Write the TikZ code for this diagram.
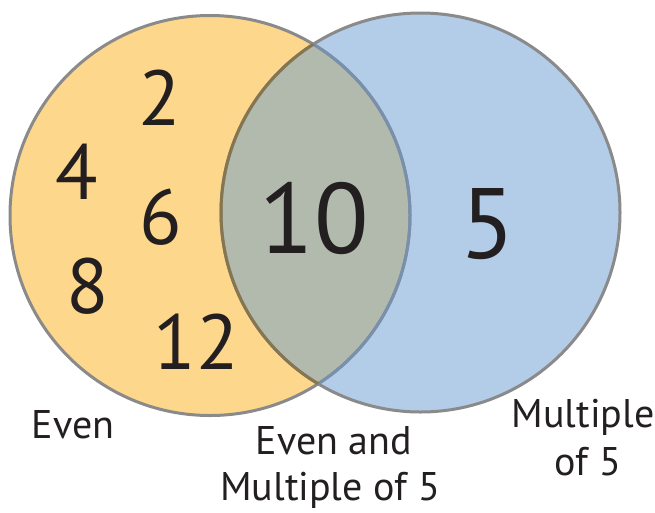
\documentclass[tikz,border=0pt]{standalone}
\usepackage{fontspec}
\setmainfont{PT Sans}
\definecolor{evenfill}{HTML}{FDD78C}
\definecolor{fivefill}{HTML}{B3CDE8}
\definecolor{bothfill}{HTML}{B2BAAE}
\definecolor{rim}{HTML}{8A8A8A}
\definecolor{rimblue}{HTML}{7890AC}
\definecolor{rimbrown}{HTML}{857650}
\definecolor{ink}{HTML}{231F20}
\begin{document}
\begin{tikzpicture}[x=1pt,y=-1pt,
  num/.style={anchor=base,inner sep=0pt,text=ink,font=\fontsize{78}{78}\selectfont},
  bignum/.style={anchor=base,inner sep=0pt,text=ink,font=\fontsize{100}{100}\selectfont},
  lbl/.style={anchor=base,inner sep=0pt,text=ink,font=\fontsize{40}{40}\selectfont}]
\useasboundingbox (0,0) rectangle (655,512);
\def\leftc{(210,215.5) circle [radius=200]}
\def\rightc{(420.5,212.5) circle [radius=199.5]}
\fill[evenfill] \leftc;
\fill[fivefill] \rightc;
\begin{scope}
  \clip \leftc;
  \fill[bothfill] \rightc;
\end{scope}
\draw[rim,line width=3pt] \leftc;
\draw[rim,line width=3pt] \rightc;
\begin{scope}
  \clip \rightc;
  \draw[rimblue,line width=3pt] \leftc;
\end{scope}
\begin{scope}
  \clip \leftc;
  \draw[rimbrown,line width=3pt] \rightc;
\end{scope}
\node[num] (n2) at (160,125) {2};
\node[num] (n4) at (77,199) {4};
\node[num] (n6) at (161,244) {6};
\node[num] (n8) at (88,313) {8};
\node[num] (n12) at (196,369) {12};
\node[bignum] (n10) at (314,253) {10};
\node[bignum] (n5) at (488,258) {5};
\node[lbl] (even) at (73,438) {Even};
\node[lbl] (both1) at (334,454) {Even and};
\node[lbl] (both2) at (330,500) {Multiple of 5};
\node[lbl] (mult1) at (583,427) {Multiple};
\node[lbl] (mult2) at (588,475) {of 5};
\end{tikzpicture}
\end{document}
